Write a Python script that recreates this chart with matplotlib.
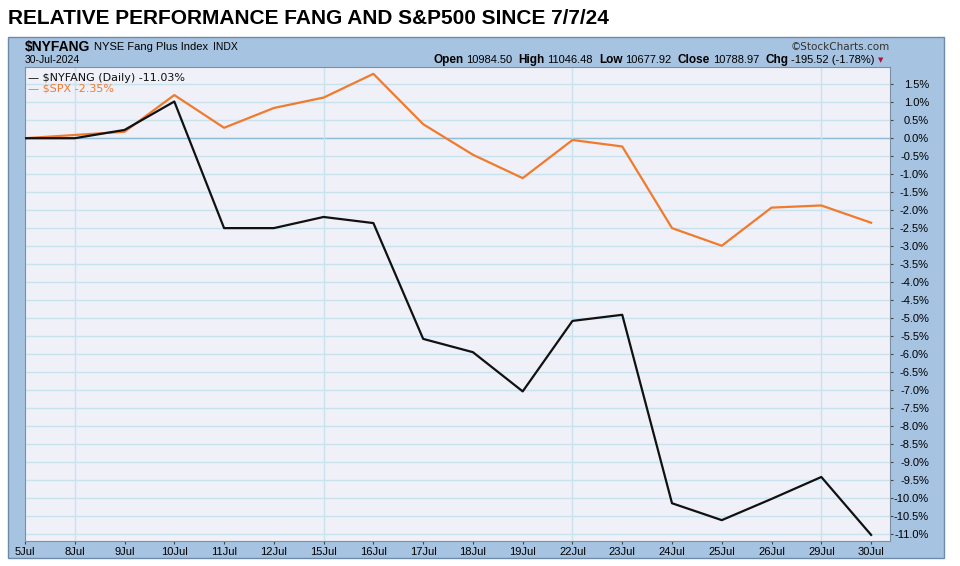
import matplotlib.pyplot as plt
from matplotlib.patches import Rectangle

# data (% change since 5 Jul)
dates = ['5Jul', '8Jul', '9Jul', '10Jul', '11Jul', '12Jul', '15Jul', '16Jul', '17Jul',
         '18Jul', '19Jul', '22Jul', '23Jul', '24Jul', '25Jul', '26Jul', '29Jul', '30Jul']
nyfang = [0.0, 0.0, 0.23, 1.02, -2.5, -2.5, -2.19, -2.36, -5.58,
          -5.95, -7.04, -5.08, -4.91, -10.15, -10.62, -10.03, -9.42, -11.03]
spx = [0.0, 0.09, 0.18, 1.2, 0.29, 0.84, 1.13, 1.79, 0.39,
       -0.46, -1.11, -0.05, -0.23, -2.5, -2.99, -1.93, -1.87, -2.35]
mondays = ['8Jul', '15Jul', '22Jul', '29Jul']
y_ticks = [i * 0.5 for i in range(-22, 4)]

W, H = 960, 566
fig = plt.figure(figsize=(W / 100, H / 100), dpi=100)
fig.patch.set_facecolor('white')
rend = fig.canvas.get_renderer()

panel_blue = '#a6c3e1'
fig.patches.append(Rectangle((8 / W, 1 - 558 / H), 936 / W, 521 / H, transform=fig.transFigure,
                             facecolor=panel_blue, edgecolor='#6d8aa6', lw=1, zorder=-10))

fig.text(8 / W, 1 - 19 / H, 'RELATIVE PERFORMANCE FANG AND S&P500 SINCE 7/7/24',
         fontsize=15, fontweight='bold', family='Liberation Sans', va='center')

# header text in the blue panel
t = fig.text(25 / W, 1 - 47 / H, '$NYFANG', fontsize=10, fontweight='bold', va='center',
             family='Liberation Sans')
x = t.get_window_extent(renderer=rend).x1 + 4
t = fig.text(x / W, 1 - 47 / H, 'NYSE Fang Plus Index', fontsize=8, va='center',
             family='Liberation Sans')
x = t.get_window_extent(renderer=rend).x1 + 5
fig.text(x / W, 1 - 47 / H, 'INDX', fontsize=7.5, va='center', family='Liberation Sans')
fig.text(25 / W, 1 - 60 / H, '30-Jul-2024', fontsize=7.5, va='center', family='Liberation Sans')
fig.text(890 / W, 1 - 47 / H, '\u00a9StockCharts.com', fontsize=7.5, va='center', ha='right',
         family='DejaVu Sans', color='#333333')

hdr = [('Open', '10984.50'), ('High', '11046.48'), ('Low', '10677.92'),
       ('Close', '10788.97'), ('Chg', '-195.52 (-1.78%)')]
x = 433
for lab, val in hdr:
    t = fig.text(x / W, 1 - 60 / H, lab, fontsize=8.5, fontweight='bold', va='center',
                 family='Liberation Sans')
    x = t.get_window_extent(renderer=rend).x1 + 3
    t2 = fig.text(x / W, 1 - 60 / H, val, fontsize=8, va='center', family='Liberation Sans')
    x = t2.get_window_extent(renderer=rend).x1 + 6
fig.text((x - 3) / W, 1 - 60 / H, '\u25bc', fontsize=5, va='center', color='#b01040')

# plot area
ax = fig.add_axes([25 / W, 1 - 541 / H, 865 / W, 474 / H])
ax.set_facecolor('#eff0f8')
xs = list(range(len(dates)))

for v in y_ticks + [2.0]:
    ax.axhline(v, color='#c8e2ee', lw=1, zorder=1)
ax.axhline(0, color='#8fbdd6', lw=1, zorder=1)
for m in mondays:
    ax.axvline(dates.index(m), color='#c8e2ee', lw=1, zorder=1)

ax.plot(xs, spx, color='#f07b2c', lw=1.6, zorder=3)
ax.plot(xs, nyfang, color='#111111', lw=1.6, zorder=4)

ax.set_xlim(0, len(dates) - 1 + 0.38)
ax.set_ylim(-11.2, 1.98)

ax.set_xticks(xs)
ax.set_xticklabels(dates, fontsize=8, family='Liberation Sans')
ax.tick_params(axis='x', length=2, pad=2, color='#444444')

ax.yaxis.tick_right()
ax.set_yticks(y_ticks)
ax.set_yticklabels(['%.1f%%' % v for v in y_ticks], fontsize=8, family='Liberation Sans')
ax.tick_params(axis='y', length=2, pad=26, color='#444444')
for lbl in ax.get_yticklabels():
    lbl.set_horizontalalignment('right')

for s in ax.spines.values():
    s.set_color('#7d8fa3')
    s.set_linewidth(0.8)

# legend text inside the plot
ax.text(0.004, 0.987, '\u2014 $NYFANG (Daily) -11.03%', transform=ax.transAxes,
        fontsize=8, va='top', color='#111111')
ax.text(0.004, 0.965, '\u2014 $SPX -2.35%', transform=ax.transAxes,
        fontsize=8, va='top', color='#f07b2c')

fig.savefig('out.png', dpi=100)
